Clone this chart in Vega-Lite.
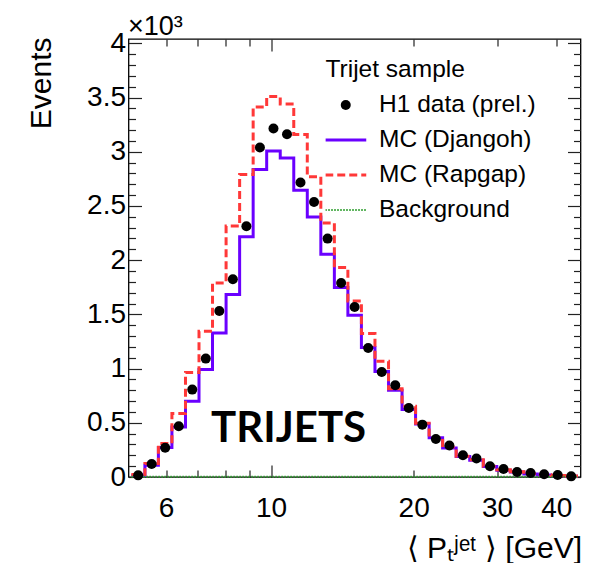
{
  "$schema": "https://vega.github.io/schema/vega-lite/v6.json",
  "width": 452,
  "height": 438,
  "autosize": {"type": "none"},
  "padding": {"left": 128.5, "top": 39, "right": 9.5, "bottom": 86},
  "background": "white",
  "datasets": {
    "bins": [
      {"i": 0, "lo": 5.07, "hi": 5.415, "c": 5.24, "d": 15, "dj": 15, "rg": 22, "bg": 3},
      {"i": 1, "lo": 5.415, "hi": 5.782, "c": 5.596, "d": 120, "dj": 108, "rg": 124, "bg": 3},
      {"i": 2, "lo": 5.782, "hi": 6.175, "c": 5.976, "d": 270, "dj": 271, "rg": 308, "bg": 3},
      {"i": 3, "lo": 6.175, "hi": 6.596, "c": 6.383, "d": 468, "dj": 461, "rg": 585, "bg": 3},
      {"i": 4, "lo": 6.596, "hi": 7.044, "c": 6.817, "d": 806, "dj": 698, "rg": 965, "bg": 3},
      {"i": 5, "lo": 7.044, "hi": 7.522, "c": 7.28, "d": 1092, "dj": 992, "rg": 1345, "bg": 3},
      {"i": 6, "lo": 7.522, "hi": 8.035, "c": 7.775, "d": 1531, "dj": 1328, "rg": 1790, "bg": 3},
      {"i": 7, "lo": 8.035, "hi": 8.582, "c": 8.304, "d": 1824, "dj": 1684, "rg": 2315, "bg": 3},
      {"i": 8, "lo": 8.582, "hi": 9.165, "c": 8.869, "d": 2313, "dj": 2216, "rg": 2790, "bg": 3},
      {"i": 9, "lo": 9.165, "hi": 9.788, "c": 9.471, "d": 3039, "dj": 2836, "rg": 3413, "bg": 3},
      {"i": 10, "lo": 9.788, "hi": 10.455, "c": 10.116, "d": 3214, "dj": 3007, "rg": 3510, "bg": 3},
      {"i": 11, "lo": 10.455, "hi": 11.165, "c": 10.804, "d": 3161, "dj": 2943, "rg": 3440, "bg": 3},
      {"i": 12, "lo": 11.165, "hi": 11.924, "c": 11.537, "d": 2716, "dj": 2645, "rg": 3160, "bg": 3},
      {"i": 13, "lo": 11.924, "hi": 12.735, "c": 12.322, "d": 2537, "dj": 2398, "rg": 2770, "bg": 3},
      {"i": 14, "lo": 12.735, "hi": 13.602, "c": 13.161, "d": 2199, "dj": 2054, "rg": 2343, "bg": 3},
      {"i": 15, "lo": 13.602, "hi": 14.525, "c": 14.056, "d": 1790, "dj": 1747, "rg": 1932, "bg": 3},
      {"i": 16, "lo": 14.525, "hi": 15.512, "c": 15.01, "d": 1568, "dj": 1492, "rg": 1624, "bg": 3},
      {"i": 17, "lo": 15.512, "hi": 16.569, "c": 16.032, "d": 1190, "dj": 1195, "rg": 1323, "bg": 3},
      {"i": 18, "lo": 16.569, "hi": 17.699, "c": 17.123, "d": 969, "dj": 972, "rg": 1068, "bg": 3},
      {"i": 19, "lo": 17.699, "hi": 18.901, "c": 18.286, "d": 846, "dj": 800, "rg": 815, "bg": 3},
      {"i": 20, "lo": 18.901, "hi": 20.184, "c": 19.53, "d": 636, "dj": 622, "rg": 652, "bg": 3},
      {"i": 21, "lo": 20.184, "hi": 21.56, "c": 20.859, "d": 483, "dj": 488, "rg": 495, "bg": 3},
      {"i": 22, "lo": 21.56, "hi": 23.022, "c": 22.278, "d": 351, "dj": 362, "rg": 365, "bg": 3},
      {"i": 23, "lo": 23.022, "hi": 24.589, "c": 23.79, "d": 290, "dj": 268, "rg": 276, "bg": 3},
      {"i": 24, "lo": 24.589, "hi": 26.265, "c": 25.41, "d": 200, "dj": 190, "rg": 192, "bg": 3},
      {"i": 25, "lo": 26.265, "hi": 28.054, "c": 27.138, "d": 170, "dj": 154, "rg": 158, "bg": 3},
      {"i": 26, "lo": 28.054, "hi": 29.957, "c": 28.98, "d": 99, "dj": 96, "rg": 100, "bg": 3},
      {"i": 27, "lo": 29.957, "hi": 31.989, "c": 30.953, "d": 74, "dj": 62, "rg": 66, "bg": 3},
      {"i": 28, "lo": 31.989, "hi": 34.168, "c": 33.06, "d": 46, "dj": 46, "rg": 48, "bg": 3},
      {"i": 29, "lo": 34.168, "hi": 36.483, "c": 35.308, "d": 37, "dj": 27, "rg": 29, "bg": 3},
      {"i": 30, "lo": 36.483, "hi": 38.966, "c": 37.704, "d": 25, "dj": 18, "rg": 20, "bg": 3},
      {"i": 31, "lo": 38.966, "hi": 41.624, "c": 40.272, "d": 18, "dj": 12, "rg": 13, "bg": 3},
      {"i": 32, "lo": 41.624, "hi": 44.458, "c": 43.011, "d": 6, "dj": 8, "rg": 9, "bg": 3}
    ],
    "label": [{"text": "TRIJETS"}]
  },
  "layer": [
    {
      "data": {"name": "bins"},
      "transform": [
        {"fold": ["dj", "rg", "bg"], "as": ["key", "value"]},
        {"fold": ["lo", "hi"], "as": ["ek", "edge"]}
      ],
      "mark": {"type": "line", "strokeJoin": "miter", "strokeCap": "butt"},
      "encoding": {
        "x": {
          "field": "edge", "type": "quantitative",
          "scale": {"type": "log", "domain": [5, 45], "nice": false},
          "axis": {
            "orient": "bottom",
            "values": [6, 7, 8, 9, 10, 20, 30, 40],
            "tickSize": {"condition": {"test": "datum.value === 10", "value": -12}, "value": -7},
            "labelPadding": {"condition": {"test": "datum.value === 10", "value": 29}, "value": 24},
            "labelExpr": "indexof([6,10,20,30,40], datum.value) >= 0 ? '' + datum.value : ''",
            "labelFontSize": 28,
            "labelFlush": false,
            "labelOverlap": false,
            "title": "⟨ Pₜʲᵉᵗ ⟩ [GeV]",
            "titleFontSize": 30,
            "titleFontWeight": "normal",
            "titleAlign": "right",
            "titleBaseline": "alphabetic",
            "titleX": 453,
            "titleY": 80
          }
        },
        "y": {
          "field": "value", "type": "quantitative",
          "scale": {"domain": [0, 4040], "nice": false},
          "axis": {
            "orient": "left",
            "values": [0,100,200,300,400,500,600,700,800,900,1000,1100,1200,1300,1400,1500,1600,1700,1800,1900,2000,2100,2200,2300,2400,2500,2600,2700,2800,2900,3000,3100,3200,3300,3400,3500,3600,3700,3800,3900,4000],
            "tickSize": {"condition": {"test": "datum.value % 500 === 0", "value": -13}, "value": -7},
            "labelPadding": {"condition": {"test": "datum.value % 500 === 0", "value": 16}, "value": 10},
            "labelExpr": "datum.value % 500 === 0 ? '' + (datum.value / 1000) : ''",
            "labelFontSize": 28,
            "labelFlush": false,
            "labelOverlap": false,
            "title": "Events",
            "titleFontSize": 30,
            "titleFontWeight": "normal",
            "titleAngle": 270,
            "titleAlign": "right",
            "titleBaseline": "alphabetic",
            "titleX": -78,
            "titleY": -2
          }
        },
        "color": {
          "field": "key", "type": "nominal",
          "scale": {"domain": ["d", "dj", "rg", "bg"], "range": ["#000000", "#6a00ff", "#ff3838", "#2e9e2e"]},
          "legend": {
            "orient": "none",
            "legendX": 197,
            "legendY": 19,
            "title": "Trijet sample",
            "titleFont": "Liberation Sans",
            "titleFontSize": 24.5,
            "titleFontWeight": "normal",
            "titleColor": "#000",
            "titlePadding": 5,
            "labelFont": "Liberation Sans",
            "labelFontSize": 24.5,
            "labelColor": "#000",
            "labelOffset": 21,
            "labelLimit": 300,
            "symbolType": "stroke",
            "symbolSize": 1681,
            "symbolOffset": 8,
            "symbolStrokeWidth": 3,
            "clipHeight": 35,
            "rowPadding": 0,
            "padding": 0,
            "labelExpr": "datum.value === 'd' ? 'H1 data (prel.)' : datum.value === 'dj' ? 'MC (Djangoh)' : datum.value === 'rg' ? 'MC (Rapgap)' : 'Background'",
            "encode": {
              "symbols": {
                "update": {
                  "shape": {"signal": "datum.value === 'd' ? 'circle' : 'stroke'"},
                  "size": {"signal": "datum.value === 'd' ? 100 : 1681"},
                  "fill": {"signal": "datum.value === 'd' ? '#000' : 'transparent'"},
                  "strokeDash": {"signal": "datum.value === 'rg' ? [8,4] : datum.value === 'bg' ? [1.5,1.5] : [1,0]"},
                  "strokeWidth": {"signal": "datum.value === 'd' ? 0 : datum.value === 'bg' ? 2 : 3"}
                }
              }
            }
          }
        },
        "strokeDash": {
          "field": "key", "type": "nominal",
          "scale": {"domain": ["d", "dj", "rg", "bg"], "range": [[1, 0], [1, 0], [8, 4], [1.5, 1.5]]},
          "legend": null
        },
        "strokeWidth": {"condition": {"test": "datum.key === 'bg'", "value": 2}, "value": 3},
        "order": [{"field": "i", "type": "quantitative"}, {"field": "edge", "type": "quantitative"}]
      }
    },
    {
      "data": {"name": "bins"},
      "mark": {"type": "point", "filled": true, "size": 100, "color": "#000", "opacity": 1},
      "encoding": {
        "x": {"field": "c", "type": "quantitative", "scale": {"type": "log", "domain": [5, 45], "nice": false}, "axis": null},
        "y": {"field": "d", "type": "quantitative", "scale": {"domain": [0, 4040], "nice": false}, "axis": null}
      }
    },
    {
      "data": {"name": "label"},
      "mark": {"type": "text", "font": "Lato", "fontWeight": "bold", "fontSize": 42, "align": "left", "baseline": "middle", "color": "#000"},
      "encoding": {
        "text": {"field": "text"},
        "x": {
          "datum": 7.47, "type": "quantitative",
          "scale": {"type": "log", "domain": [5, 45], "nice": false},
          "axis": {
            "orient": "top",
            "values": [6, 7, 8, 9, 10, 20, 30, 40],
            "tickSize": {"condition": {"test": "datum.value === 10", "value": -12}, "value": -7},
            "labels": false,
            "title": "×10³",
            "titleFontSize": 27,
            "titleFontWeight": "normal",
            "titleAlign": "left",
            "titleBaseline": "alphabetic",
            "titleX": -1,
            "titleY": -5
          }
        },
        "y": {
          "datum": 446, "type": "quantitative",
          "scale": {"domain": [0, 4040], "nice": false},
          "axis": {
            "orient": "right",
            "values": [0,100,200,300,400,500,600,700,800,900,1000,1100,1200,1300,1400,1500,1600,1700,1800,1900,2000,2100,2200,2300,2400,2500,2600,2700,2800,2900,3000,3100,3200,3300,3400,3500,3600,3700,3800,3900,4000],
            "tickSize": {"condition": {"test": "datum.value % 500 === 0", "value": -13}, "value": -7},
            "labels": false,
            "title": null
          }
        }
      }
    }
  ],
  "resolve": {"axis": {"x": "independent", "y": "independent"}},
  "config": {
    "view": {"stroke": "#000", "strokeWidth": 1.3},
    "font": "Liberation Sans",
    "axis": {
      "domain": false,
      "grid": false,
      "labelFont": "Liberation Sans",
      "titleFont": "Liberation Sans",
      "labelColor": "#000",
      "titleColor": "#000",
      "tickColor": "#222",
      "tickWidth": 1.2
    }
  }
}
